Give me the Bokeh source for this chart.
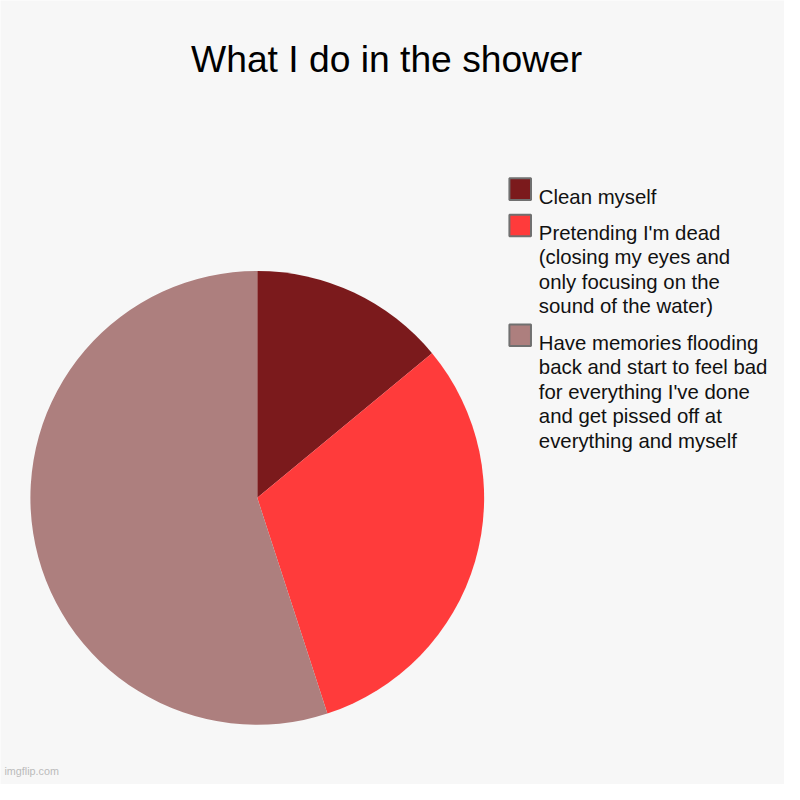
import math
from bokeh.plotting import figure
from bokeh.models import ColumnDataSource, Range1d
from bokeh.core.properties import value
from bokeh.embed import file_html
from bokeh.resources import INLINE

# ---- data ----
title = "What I do in the shower"
categories = [
    "Clean myself",
    "Pretending I'm dead (closing my eyes and only focusing on the sound of the water)",
    "Have memories flooding back and start to feel bad for everything I've done and get pissed off at everything and myself",
]
legend_lines = [
    ["Clean myself"],
    ["Pretending I'm dead", "(closing my eyes and", "only focusing on the", "sound of the water)"],
    ["Have memories flooding", "back and start to feel bad", "for everything I've done",
     "and get pissed off at", "everything and myself"],
]
shares = [14, 31, 55]
colors = ["#7B1A1C", "#FF3B3B", "#AD7F7E"]
watermark = "imgflip.com"

# ---- layout: reference 800x800 pixel space drawn into a 784px figure ----
W = H = 784
REF = 800
S = W / REF
BG = "#F7F7F7"
FONT = "Liberation Sans"

def Y(yref):
    return REF - yref

def fs(px):
    return "%.2fpx" % (px * S)

p = figure(width=W, height=H, output_backend="svg", toolbar_location=None,
           x_range=Range1d(0, REF), y_range=Range1d(0, REF),
           x_axis_type=None, y_axis_type=None, min_border=0)
p.background_fill_color = BG
p.border_fill_color = BG
p.outline_line_color = None
p.xgrid.visible = False
p.ygrid.visible = False

# pie
cx, cy, r = 262, 507.5, 231.5
total = float(sum(shares))
starts, ends = [], []
acc = 0.0
for s in shares:
    starts.append(math.pi / 2 - acc / total * 2 * math.pi)
    acc += s
    ends.append(math.pi / 2 - acc / total * 2 * math.pi)
src = ColumnDataSource(dict(x=[cx] * len(shares), y=[Y(cy)] * len(shares),
                            start=starts, end=ends, color=colors, label=categories))
p.wedge(x="x", y="y", radius=r, start_angle="start", end_angle="end",
        direction="clock", fill_color="color", line_color=None, source=src)

# title
p.text(x=[394], y=[Y(60)], text=[title], text_font=value(FONT),
       text_font_size=fs(38), text_align="center", text_baseline="alphabetic",
       text_color="#000000")

# legend
line_h = 25
gap = 12
sq_x = 530.3
tx = 549.3
yc = 192.5
sx, sy, scol = [], [], []
lx, ly, lt = [], [], []
for lines, col in zip(legend_lines, colors):
    sx.append(sq_x); sy.append(Y(yc)); scol.append(col)
    for i, t in enumerate(lines):
        lx.append(tx); ly.append(Y(yc + 7.5 + i * line_h)); lt.append(t)
    yc += len(lines) * line_h + gap
p.rect(x=sx, y=sy, width=22, height=22, fill_color=scol,
       line_color="#707070", line_width=2)
p.text(x=lx, y=ly, text=lt, text_font=value(FONT), text_font_size=fs(20.8),
       text_align="left", text_baseline="alphabetic", text_color="#111111")

# watermark
p.text(x=[4], y=[Y(786)], text=[watermark], text_font=value(FONT),
       text_font_size=fs(11), text_align="left", text_baseline="alphabetic",
       text_color="#BBBBBB")

open("out.html", "w").write(file_html(p, INLINE))
